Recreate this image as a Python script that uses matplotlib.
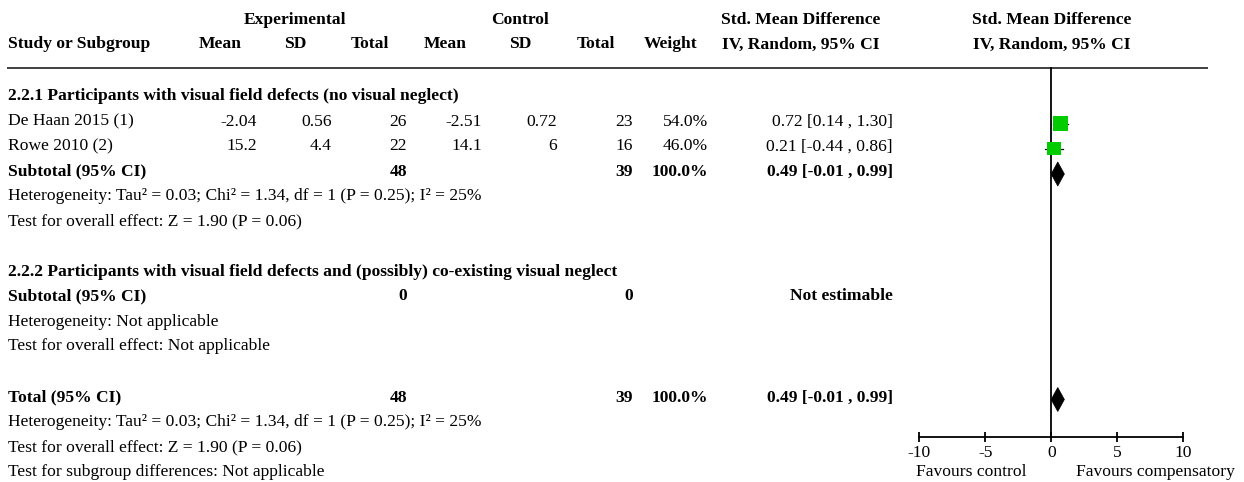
import matplotlib
matplotlib.use("Agg")
import matplotlib.pyplot as plt
from matplotlib.patches import Rectangle, Polygon

plt.rcParams['font.family'] = ['Liberation Serif', 'DejaVu Serif']
plt.rcParams['axes.unicode_minus'] = False

# Study-level data
studies = ['De Haan 2015 (1)', 'Rowe 2010 (2)']
exp_mean = [-2.04, 15.2]
exp_sd = [0.56, 4.4]
exp_n = [26, 22]
ctrl_mean = [-2.51, 14.1]
ctrl_sd = [0.72, 6]
ctrl_n = [23, 16]
weights = [54.0, 46.0]
smd = [0.72, 0.21]
ci_lo = [0.14, -0.44]
ci_hi = [1.30, 0.86]

# Pooled (random effects) estimate
pooled = 0.49
pooled_lo = -0.01
pooled_hi = 0.99

subgroup1 = '2.2.1 Participants with visual field defects (no visual neglect)'
subgroup2 = '2.2.2 Participants with visual field defects and (possibly) co-existing visual neglect'
het_text = 'Heterogeneity: Tau² = 0.03; Chi² = 1.34, df = 1 (P = 0.25); I² = 25%'
overall_text = 'Test for overall effect: Z = 1.90 (P = 0.06)'
xticks = [-10, -5, 0, 5, 10]

W, H = 1244, 482
FS = 12.6

fig = plt.figure(figsize=(W / 100, H / 100), dpi=100)
ax = fig.add_axes([0, 0, 1, 1])
ax.set_xlim(0, W)
ax.set_ylim(H, 0)
ax.axis('off')

# right edges of the numeric columns
col_right = [257, 332, 407, 482, 557, 633, 708]
ci_right = 893
left = 8


def txt(x, y, s, ha='left', bold=False):
    ax.text(x, y + 5.5, s, ha=ha, va='baseline', fontsize=FS,
            fontweight='bold' if bold else 'normal')


def ci_str(m, lo, hi):
    return f'{m:.2f} [{lo:.2f} , {hi:.2f}]'


# header
txt((col_right[0] + col_right[2]) / 2 - 37, 18, 'Experimental', ha='center', bold=True)
txt((col_right[3] + col_right[5]) / 2 - 37, 18, 'Control', ha='center', bold=True)
txt(801, 18, 'Std. Mean Difference', ha='center', bold=True)
txt(1051.7, 18, 'Std. Mean Difference', ha='center', bold=True)
txt(left, 43, 'Study or Subgroup', bold=True)
for r, h in zip(col_right, ['Mean', 'SD', 'Total', 'Mean', 'SD', 'Total', 'Weight']):
    txt(r - 37, 43, h, ha='center', bold=True)
txt(801, 43, 'IV, Random, 95% CI', ha='center', bold=True)
txt(1051.7, 43, 'IV, Random, 95% CI', ha='center', bold=True)
ax.plot([7, 1208], [67.5, 67.5], color='#333333', lw=1.3, solid_capstyle='butt')

# subgroup 1
txt(left, 95, subgroup1, bold=True)
rows = [120, 145]
for i, y in enumerate(rows):
    txt(left, y, studies[i])
    vals = [f'{exp_mean[i]:g}', f'{exp_sd[i]:g}', f'{exp_n[i]}',
            f'{ctrl_mean[i]:g}', f'{ctrl_sd[i]:g}', f'{ctrl_n[i]}',
            f'{weights[i]:.1f}%']
    for r, v in zip(col_right, vals):
        txt(r, y, v, ha='right')
    txt(ci_right, y, ci_str(smd[i], ci_lo[i], ci_hi[i]), ha='right')


def total_row(y, label):
    txt(left, y, label, bold=True)
    txt(col_right[2], y, f'{sum(exp_n)}', ha='right', bold=True)
    txt(col_right[5], y, f'{sum(ctrl_n)}', ha='right', bold=True)
    txt(col_right[6], y, f'{sum(weights):.1f}%', ha='right', bold=True)
    txt(ci_right, y, ci_str(pooled, pooled_lo, pooled_hi), ha='right', bold=True)


total_row(170, 'Subtotal (95% CI)')
txt(left, 195, het_text)
txt(left, 220, overall_text)

# subgroup 2 (no studies)
txt(left, 270, subgroup2, bold=True)
txt(left, 295, 'Subtotal (95% CI)', bold=True)
txt(col_right[2], 295, '0', ha='right', bold=True)
txt(col_right[5], 295, '0', ha='right', bold=True)
txt(ci_right, 295, 'Not estimable', ha='right', bold=True)
txt(left, 320, 'Heterogeneity: Not applicable')
txt(left, 345, 'Test for overall effect: Not applicable')

# overall
total_row(396, 'Total (95% CI)')
txt(left, 421, het_text)
txt(left, 446, overall_text)
txt(left, 471, 'Test for subgroup differences: Not applicable')

# forest plot panel, x from -10 to 10
x0, x1 = 919.3, 1183.3
fax = fig.add_axes([x0 / W, 0, (x1 - x0) / W, 1])
fax.set_xlim(xticks[0], xticks[-1])
fax.set_ylim(H, 0)
fax.patch.set_visible(False)
for s in ['top', 'left', 'right']:
    fax.spines[s].set_visible(False)
axis_y = 437
fax.spines['bottom'].set_position(('data', axis_y))
fax.spines['bottom'].set_linewidth(1.3)
fax.spines['bottom'].set_bounds(xticks[0], xticks[-1])
fax.set_xticks(xticks)
fax.set_xticklabels([str(t) for t in xticks], fontsize=FS)
fax.tick_params(axis='x', direction='inout', length=7, width=1.3, pad=2.5)
fax.set_yticks([])

px = (x1 - x0) / (xticks[-1] - xticks[0])  # pixels per unit
fax.plot([0, 0], [67.5, axis_y], color='black', lw=1.3)

for i, y in enumerate(rows):
    ym = y + 3.5
    fax.plot([ci_lo[i], ci_hi[i]], [ym, ym], color='black', lw=0.9)
    side = 2.0 * weights[i] ** 0.5
    fax.add_patch(Rectangle((smd[i] - side / 2 / px, ym - side / 2), side / px, side,
                            facecolor='#00cc00', edgecolor='none', zorder=3))


def diamond(y):
    h = 12
    fax.add_patch(Polygon([(pooled_lo, y), (pooled, y - h), (pooled_hi, y), (pooled, y + h)],
                          closed=True, facecolor='black', edgecolor='black', lw=0.5, zorder=3))


diamond(174)
diamond(399.5)

fig.text(971 / W, 1 - 476 / H, 'Favours control', ha='center', va='baseline', fontsize=FS)
fig.text(1155 / W, 1 - 476 / H, 'Favours compensatory', ha='center', va='baseline', fontsize=FS)

fig.savefig('out.png', dpi=100)
